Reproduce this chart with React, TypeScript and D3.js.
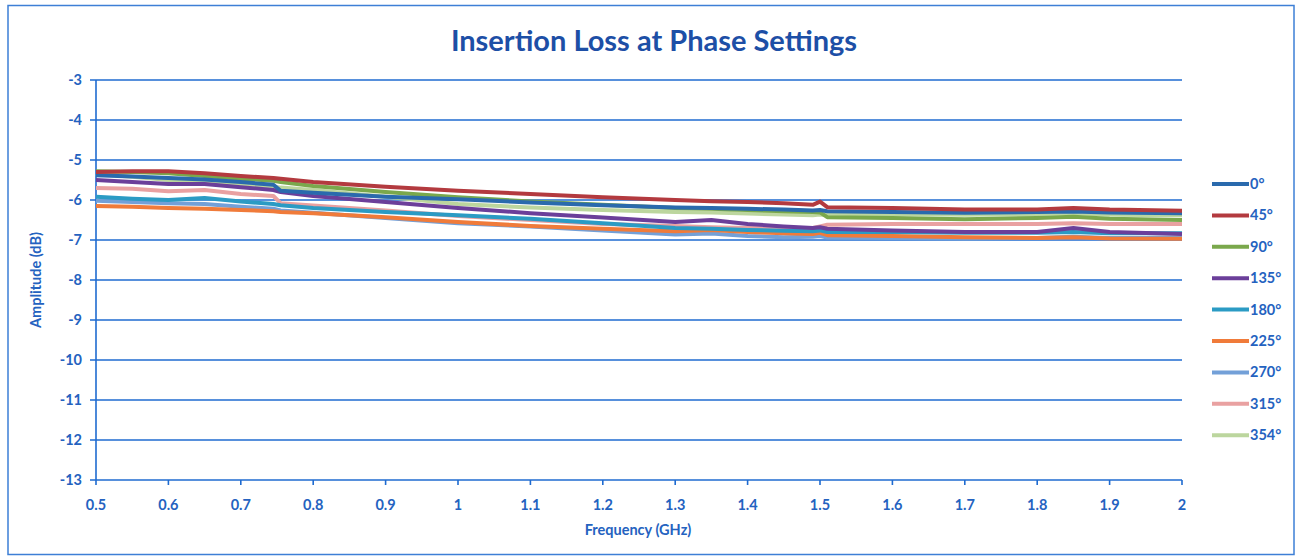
import React from "react";
import * as d3 from "d3";

const freqs = [0.5, 0.55, 0.6, 0.65, 0.7, 0.745, 0.755, 0.8, 0.9, 1.0, 1.1, 1.2, 1.3, 1.35, 1.4, 1.45, 1.49, 1.5, 1.51, 1.6, 1.7, 1.8, 1.85, 1.9, 2.0];

const s0 = [-5.38, -5.41, -5.45, -5.49, -5.55, -5.62, -5.77, -5.82, -5.92, -5.98, -6.06, -6.13, -6.19, -6.2, -6.22, -6.24, -6.26, -6.25, -6.28, -6.3, -6.32, -6.3, -6.29, -6.31, -6.33];
const s45 = [-5.3, -5.28, -5.28, -5.33, -5.4, -5.45, -5.47, -5.55, -5.67, -5.77, -5.85, -5.93, -6.0, -6.03, -6.05, -6.08, -6.12, -6.04, -6.18, -6.2, -6.24, -6.24, -6.2, -6.24, -6.27];
const s90 = [-5.28, -5.3, -5.33, -5.4, -5.47, -5.52, -5.55, -5.65, -5.8, -5.93, -6.04, -6.12, -6.2, -6.22, -6.25, -6.28, -6.3, -6.31, -6.43, -6.45, -6.48, -6.45, -6.42, -6.47, -6.5];
const s135 = [-5.5, -5.55, -5.6, -5.6, -5.68, -5.75, -5.8, -5.9, -6.05, -6.2, -6.33, -6.44, -6.55, -6.5, -6.6, -6.66, -6.7, -6.68, -6.72, -6.76, -6.8, -6.8, -6.7, -6.8, -6.85];
const s180 = [-5.92, -5.97, -6.0, -5.95, -6.04, -6.1, -6.13, -6.2, -6.3, -6.38, -6.47, -6.58, -6.7, -6.72, -6.75, -6.77, -6.78, -6.76, -6.8, -6.8, -6.82, -6.82, -6.8, -6.83, -6.83];
const s225 = [-6.15, -6.17, -6.2, -6.22, -6.25, -6.28, -6.3, -6.33, -6.43, -6.55, -6.65, -6.72, -6.78, -6.75, -6.8, -6.83, -6.85, -6.82, -6.88, -6.9, -6.93, -6.95, -6.93, -6.96, -6.97];
const s270 = [-6.02, -6.05, -6.08, -6.1, -6.17, -6.22, -6.26, -6.32, -6.45, -6.58, -6.66, -6.76, -6.86, -6.84, -6.9, -6.93, -6.92, -6.9, -6.94, -6.95, -6.96, -6.95, -6.92, -6.95, -6.95];
const s315 = [-5.7, -5.72, -5.78, -5.75, -5.85, -5.9, -6.08, -6.14, -6.26, -6.4, -6.5, -6.6, -6.65, -6.68, -6.7, -6.72, -6.7, -6.66, -6.62, -6.6, -6.6, -6.6, -6.58, -6.6, -6.6];
const s354 = [-5.35, -5.42, -5.5, -5.55, -5.6, -5.66, -5.69, -5.75, -5.92, -6.1, -6.19, -6.25, -6.3, -6.31, -6.34, -6.36, -6.38, -6.36, -6.37, -6.35, -6.37, -6.35, -6.33, -6.37, -6.38];

const seriesNames = ["0°", "45°", "90°", "135°", "180°", "225°", "270°", "315°", "354°"];
const seriesValues = [s0, s45, s90, s135, s180, s225, s270, s315, s354];
const seriesColors = ["#2a6aad", "#b33a3f", "#7aa84c", "#6b3f9a", "#2b9bc4", "#f07b3a", "#73a0d8", "#e9a1a1", "#bcd69e"];
// drawing order (back to front)
const drawOrder = [8, 7, 6, 5, 4, 3, 2, 0, 1];

const xTicks = [0.5, 0.6, 0.7, 0.8, 0.9, 1, 1.1, 1.2, 1.3, 1.4, 1.5, 1.6, 1.7, 1.8, 1.9, 2];
const yTicks = [-3, -4, -5, -6, -7, -8, -9, -10, -11, -12, -13];

const TITLE = "Insertion Loss at Phase Settings";
const XTITLE = "Frequency (GHz)";
const YTITLE = "Amplitude (dB)";

export default function App() {
  const W = 1299, H = 559;
  const left = 96, right = 1182, top = 80, bottom = 480;
  const x = d3.scaleLinear().domain([0.5, 2]).range([left, right]);
  const y = d3.scaleLinear().domain([-3, -13]).range([top, bottom]);
  const line = d3.line<number>().x((_, i) => x(freqs[i])).y((d) => y(d));
  const axisColor = "#1f6bd0";
  const textColor = "#2462c0";
  const font = "Lato, 'Open Sans', sans-serif";

  return (
    <svg width={W} height={H} style={{ position: "absolute", left: 0, top: 0, background: "#fff" }} fontFamily={font}>
      <rect x={8} y={5.5} width={1286} height={549} fill="#fff" stroke="#3d7fd6" strokeWidth={1.5} />
      <text x={654} y={51} textAnchor="middle" fontSize={29} fontWeight={700} fill="#1d4fa6">{TITLE}</text>
      {yTicks.map((t) => (
        <g key={"y" + t}>
          <line x1={left - 6} x2={right} y1={y(t)} y2={y(t)} stroke={axisColor} strokeWidth={1.6} />
          <text x={left - 14} y={y(t) + 5} textAnchor="end" fontSize={14.5} fontWeight={700} fill={textColor}>{t}</text>
        </g>
      ))}
      <line x1={left} x2={left} y1={top} y2={bottom} stroke={axisColor} strokeWidth={1.6} />
      {xTicks.map((t) => (
        <g key={"x" + t}>
          <line x1={x(t)} x2={x(t)} y1={bottom} y2={bottom + 5} stroke={axisColor} strokeWidth={1.6} />
          <text x={x(t)} y={bottom + 30} textAnchor="middle" fontSize={14.5} fontWeight={700} fill={textColor}>{t}</text>
        </g>
      ))}
      <text x={638} y={535} textAnchor="middle" fontSize={14.5} fontWeight={700} fill={textColor}>{XTITLE}</text>
      <text transform={`translate(41,${280}) rotate(-90)`} textAnchor="middle" fontSize={14.5} fontWeight={700} fill={textColor}>{YTITLE}</text>
      {drawOrder.map((i) => (
        <path key={"s" + i} d={line(seriesValues[i]) || ""} fill="none" stroke={seriesColors[i]} strokeWidth={4} strokeLinejoin="round" />
      ))}
      {seriesNames.map((n, i) => {
        const ly = 184 + i * 31.4;
        return (
          <g key={"l" + i}>
            <line x1={1212} x2={1249} y1={ly} y2={ly} stroke={seriesColors[i]} strokeWidth={4} />
            <text x={1250} y={ly + 5} fontSize={14.5} fontWeight={700} fill={textColor}>{n}</text>
          </g>
        );
      })}
    </svg>
  );
}
